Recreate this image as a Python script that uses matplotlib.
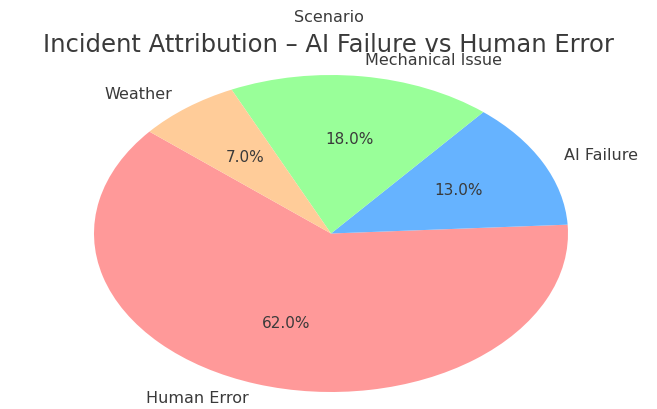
import matplotlib.pyplot as plt

# slice data, in plotting order
labels = ['Human Error', 'AI Failure', 'Mechanical Issue', 'Weather']
shares = [62, 13, 18, 7]
colors = ['#ff9999', '#66b3ff', '#99ff99', '#ffcc99']

text_color = '#3a3a3a'

fig = plt.figure(figsize=(6.57, 4.09), dpi=100)

# pie is drawn stretched wide, so let the axes aspect stay free
ax = fig.add_axes([94 / 657, 17 / 409, 474 / 657, 317 / 409])
wedges, texts, autotexts = ax.pie(
    shares, labels=labels, colors=colors, autopct='%1.1f%%',
    startangle=140, labeldistance=1.1, pctdistance=0.6,
    textprops={'color': text_color, 'fontsize': 11.5})
ax.set_aspect('auto')
ax.set_xlim(-1, 1)
ax.set_ylim(-1, 1)
ax.axis('off')

for t in autotexts:
    t.set_fontsize(11)

fig.text(0.5, 1 - 45 / 409, 'Incident Attribution \u2013 AI Failure vs Human Error',
         ha='center', va='center', fontsize=17.5, color=text_color)
fig.text(0.5, 1 - 17 / 409, 'Scenario', ha='center', va='center',
         fontsize=11.5, color=text_color)

fig.savefig('out.png', dpi=100)
